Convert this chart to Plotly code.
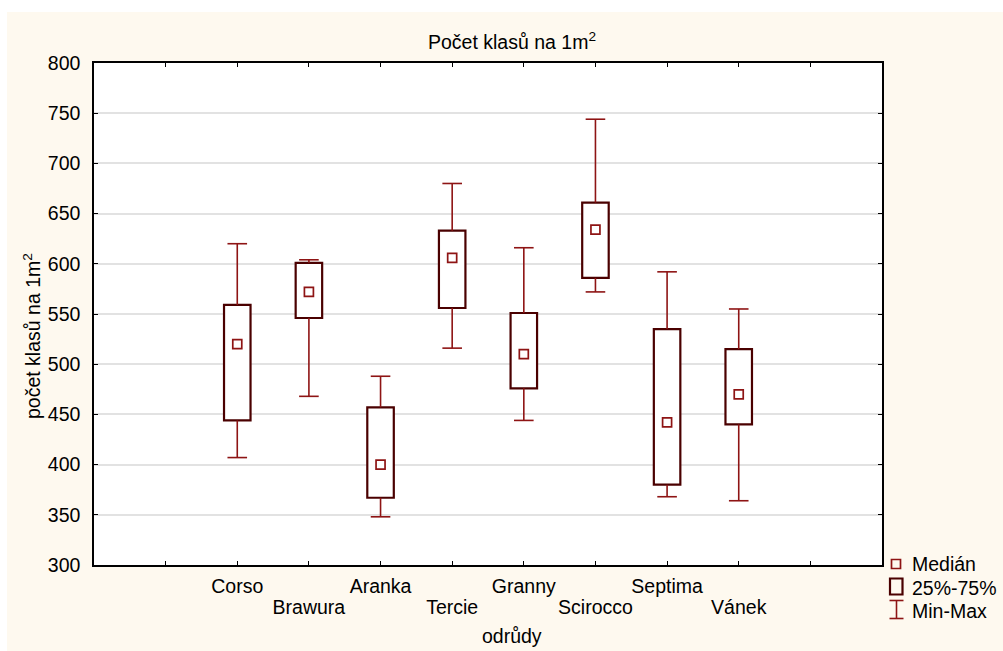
import plotly.graph_objects as go

categories = ["Corso", "Brawura", "Aranka", "Tercie", "Granny", "Scirocco", "Septima", "Vánek"]
min_vals = [407, 468, 348, 516, 444, 572, 368, 364]
q1_vals = [444, 546, 367, 556, 476, 586, 380, 440]
median_vals = [520, 572, 400, 606, 510, 634, 442, 470]
q3_vals = [559, 601, 457, 633, 551, 661, 535, 515]
max_vals = [620, 604, 488, 680, 616, 744, 592, 555]
y_ticks = [300, 350, 400, 450, 500, 550, 600, 650, 700, 750, 800]

title_text = "Počet klasů na 1m<sup>2</sup>"
x_title = "odrůdy"
y_title = "počet klasů na 1m<sup>2</sup>"
legend_labels = ["Medián", "25%-75%", "Min-Max"]

FONT = "Liberation Sans, Arial, sans-serif"
FS = 19.5
BOX_COLOR = "#4a0000"
WHISK_COLOR = "#8e1414"
CREAM = "#fef9ef"

W, H = 1003, 651
L, R, T, B = 94, 121, 63, 86
PW, PH = W - L - R, H - T - B

def px_x(p):
    return (p - L) / PW

def px_y(p):
    return (H - B - p) / PH

# categorical positions on a numeric axis: slots 2..9, with empty slots 1 and 10
positions = [i + 2 for i in range(len(categories))]
tick_vals = list(range(1, len(categories) + 3))
row1_text = [""] + [c if i % 2 == 0 else "" for i, c in enumerate(categories)] + [""]
row2_vals = positions[1::2]
row2_text = categories[1::2]

fig = go.Figure()

# boxes 25%-75%
fig.add_trace(go.Bar(
    x=positions,
    base=q1_vals,
    y=[b - a for a, b in zip(q1_vals, q3_vals)],
    width=0.37,
    marker=dict(color="white", line=dict(color=BOX_COLOR, width=2.2)),
    hoverinfo="skip",
))

# whiskers
wx, wy = [], []
for p, lo, a, b, hi in zip(positions, min_vals, q1_vals, q3_vals, max_vals):
    wx += [p, p, None, p, p, None]
    wy += [lo, a, None, b, hi, None]
fig.add_trace(go.Scatter(
    x=wx, y=wy, mode="lines",
    line=dict(color=WHISK_COLOR, width=1.6),
    hoverinfo="skip",
))

# caps
fig.add_trace(go.Scatter(
    x=positions + positions,
    y=min_vals + max_vals,
    mode="markers",
    marker=dict(symbol="line-ew", size=14, line=dict(color=WHISK_COLOR, width=1.6)),
    hoverinfo="skip",
))

# medians (drawn on the overlaying axis that carries the second label row)
fig.add_trace(go.Scatter(
    x=positions, y=median_vals, mode="markers", xaxis="x2",
    marker=dict(symbol="square", size=9, color="white",
                line=dict(color=WHISK_COLOR, width=1.7)),
    hoverinfo="skip",
))

shapes = [
    # white strips outside the cream panel
    dict(type="rect", xref="paper", yref="paper", x0=px_x(-5), x1=px_x(7),
         y0=px_y(H + 5), y1=px_y(-5), fillcolor="white", line=dict(width=0), layer="above"),
    dict(type="rect", xref="paper", yref="paper", x0=px_x(-5), x1=px_x(W + 5),
         y0=px_y(12), y1=px_y(-5), fillcolor="white", line=dict(width=0), layer="above"),
    # legend symbols
    dict(type="rect", xref="paper", yref="paper", x0=px_x(891.5), x1=px_x(900.5),
         y0=px_y(568.5), y1=px_y(559.5), line=dict(color=WHISK_COLOR, width=1.7),
         fillcolor="rgba(0,0,0,0)"),
    dict(type="rect", xref="paper", yref="paper", x0=px_x(890), x1=px_x(902.5),
         y0=px_y(594.5), y1=px_y(578.5), line=dict(color=BOX_COLOR, width=2.2),
         fillcolor="rgba(0,0,0,0)"),
    dict(type="line", xref="paper", yref="paper", x0=px_x(896.5), x1=px_x(896.5),
         y0=px_y(600.5), y1=px_y(618.5), line=dict(color=WHISK_COLOR, width=1.6)),
    dict(type="line", xref="paper", yref="paper", x0=px_x(889.5), x1=px_x(903.5),
         y0=px_y(600.5), y1=px_y(600.5), line=dict(color=WHISK_COLOR, width=1.6)),
    dict(type="line", xref="paper", yref="paper", x0=px_x(889.5), x1=px_x(903.5),
         y0=px_y(618.5), y1=px_y(618.5), line=dict(color=WHISK_COLOR, width=1.6)),
]

annotations = [
    dict(text=title_text, xref="paper", yref="paper", x=px_x(512), y=px_y(41),
         xanchor="center", yanchor="middle", showarrow=False,
         font=dict(family=FONT, size=FS, color="black")),
    dict(text=x_title, xref="paper", yref="paper", x=px_x(512), y=px_y(636),
         xanchor="center", yanchor="middle", showarrow=False,
         font=dict(family=FONT, size=FS, color="black")),
    dict(text=y_title, xref="paper", yref="paper", x=px_x(32), y=px_y(336),
         xanchor="center", yanchor="middle", showarrow=False, textangle=-90,
         font=dict(family=FONT, size=FS, color="black")),
]
for i, lab in enumerate(legend_labels):
    annotations.append(dict(text=lab, xref="paper", yref="paper", x=px_x(910),
                            y=px_y(564 + 23.5 * i), xanchor="left", yanchor="middle",
                            showarrow=False,
                            font=dict(family=FONT, size=FS, color="black")))

x_range = [0, len(categories) + 3]

fig.update_layout(
    width=W, height=H,
    margin=dict(l=L, r=R, t=T, b=B, pad=0, autoexpand=False),
    paper_bgcolor=CREAM,
    plot_bgcolor="white",
    showlegend=False,
    font=dict(family=FONT, size=FS, color="black"),
    shapes=shapes,
    annotations=annotations,
    xaxis=dict(
        range=x_range,
        tickmode="array", tickvals=tick_vals, ticktext=row1_text,
        tickangle=0, automargin=False,
        ticks="inside", ticklen=4, tickwidth=1.3, tickcolor="black",
        showline=True, linecolor="black", linewidth=1.5, mirror="ticks",
        showgrid=False, zeroline=False, fixedrange=True,
        tickfont=dict(family=FONT, size=FS, color="black"),
        ticklabelstandoff=3,
    ),
    xaxis2=dict(
        range=x_range, matches="x", overlaying="x", anchor="y", side="bottom",
        tickmode="array", tickvals=row2_vals, ticktext=row2_text,
        tickangle=0, automargin=False,
        ticks="", showline=False, showgrid=False, zeroline=False, fixedrange=True,
        tickfont=dict(family=FONT, size=FS, color="black"),
        ticklabelstandoff=28,
    ),
    yaxis=dict(
        range=[300, 800], automargin=False,
        tickmode="array", tickvals=y_ticks,
        ticks="inside", ticklen=4, tickwidth=1.3, tickcolor="black",
        showline=True, linecolor="black", linewidth=1.5, mirror="ticks",
        showgrid=True, gridcolor="#e2e2e2", gridwidth=1.5, zeroline=False,
        tickfont=dict(family=FONT, size=FS, color="black"),
        ticklabelstandoff=8,
    ),
)

fig.write_html("out.html")
